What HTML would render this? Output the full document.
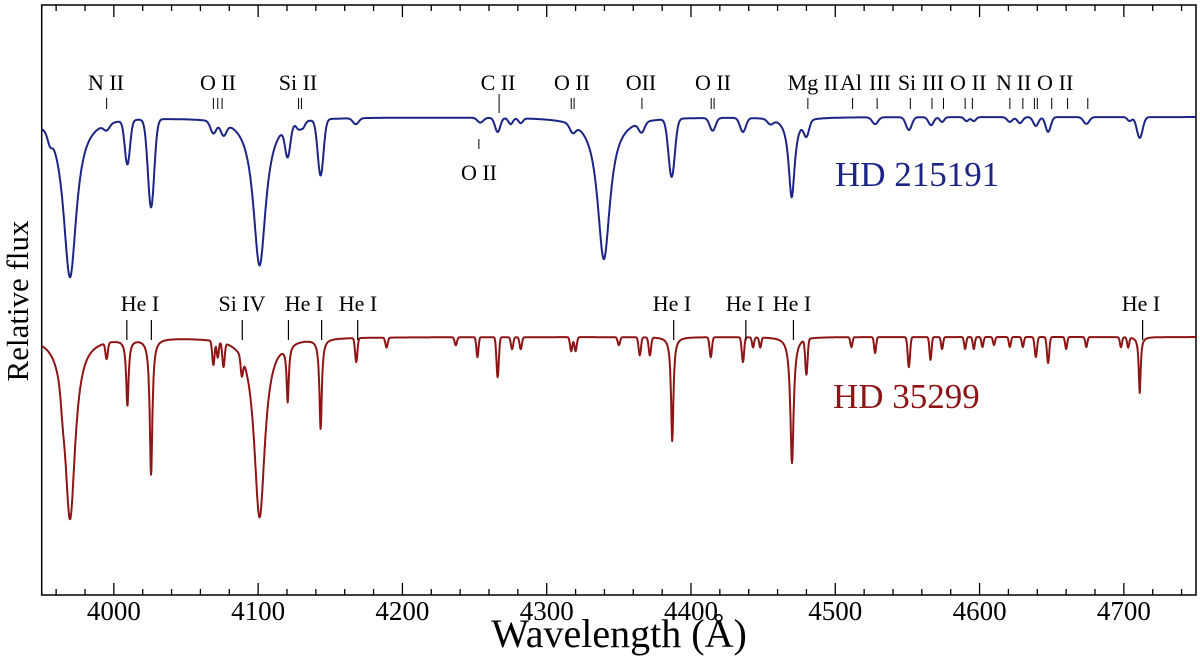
<!DOCTYPE html>
<html><head><meta charset="utf-8"><style>
html,body{margin:0;padding:0;background:#fff;}
svg{display:block;font-family:"Liberation Serif",serif;}
</style></head><body>
<svg id="chart" width="1200" height="666" viewBox="0 0 1200 666">
<g id="frame"></g>
<g id="series"></g>
<g id="labels"></g>
<text x="835" y="186" font-size="35" fill="#1c2585">HD 215191</text>
<text x="833" y="408" font-size="35" fill="#8e1515">HD 35299</text>
<text transform="translate(28,301) rotate(-90)" text-anchor="middle" font-size="31">Relative flux</text>
<text x="619" y="647" text-anchor="middle" font-size="40">Wavelength (Å)</text>
</svg>
<script>
// ---- data ----
const xTicks = [4000, 4100, 4200, 4300, 4400, 4500, 4600, 4700];
// HD 215191 line list (center Å, depth, width Å, type L=lorentz G=gauss)
const blueCenters = [3969.6,3955.7,3995,4009.4,4025.8,4069,4076,4101,4120.5,4128,4131,4143.3,4167.7,4254,4266,4275,4282,4318,4339.6,4365.8,4386.6,4415,4436,4455,4469.8,4480,4527.6,4551,4566.4,4574,4591,4596,4621,4628,4639,4647.5,4674,4704,4711];
const blueDepths  = [0.40,0.02,0.015,0.11,0.22,0.03,0.03,0.37,0.075,0.015,0.015,0.14,0.015,0.012,0.035,0.015,0.012,0.02,0.355,0.025,0.145,0.032,0.035,0.012,0.20,0.037,0.017,0.032,0.02,0.012,0.01,0.01,0.012,0.015,0.022,0.037,0.017,0.01,0.052];
const blueWidths  = [5.5,1.5,2,1.8,2.2,2,2,5.3,1.8,1.5,1.5,2,2,2,1.8,1.5,1.5,2,5.3,2,2.2,2,2,2,2.6,1.8,2,2,1.8,1.5,1.5,1.5,1.8,1.8,1.8,1.8,2,1.5,2];
const blueTypes   = "LGGGGGGLGGGGGGGGGGLGGGGGLGGGGGGGGGGGGGG";
// HD 35299 line list
const redCenters = [3969.6,3964.5,3995,4009.4,4025.8,4069,4072,4076,4088.7,4101,4120.5,4143.3,4168,4189,4237,4252,4266,4276,4282,4317,4320,4350,4364.5,4371.5,4387,4413.7,4436,4443,4448,4470,4480,4511.2,4527.6,4551,4566,4574,4590,4596,4602,4610,4621,4630,4639,4647.5,4660,4674,4698,4703,4711];
const redDepths  = [0.455,0.03,0.04,0.165,0.34,0.06,0.04,0.06,0.045,0.45,0.14,0.225,0.06,0.025,0.02,0.05,0.10,0.03,0.03,0.035,0.035,0.02,0.045,0.045,0.26,0.05,0.062,0.025,0.025,0.315,0.088,0.025,0.04,0.075,0.057,0.03,0.03,0.03,0.025,0.02,0.025,0.025,0.05,0.065,0.03,0.025,0.025,0.025,0.14];
const redWidths  = [4.4,1.2,0.8,1.0,1.1,0.8,0.7,0.8,0.8,4.5,0.9,1.0,0.8,0.8,0.8,0.7,0.8,0.8,0.8,0.8,0.8,0.8,0.8,0.8,1.0,0.8,0.8,0.7,0.7,1.4,0.8,0.7,0.7,0.8,0.7,0.7,0.7,0.7,0.7,0.7,0.7,0.7,0.8,0.8,0.7,0.7,0.7,0.7,0.8];
const redTypes   = "LGGLLGGGGLLLGGGGGGGGGGGGLGGGGLGGGGGGGGGGGGGGGGGGL";
const blueOffset = 0.55;
// labels: [text, text x(px), ticks wavelengths]
const blueLabelText = ["N II","O II","Si II","C II","O II","OII","O II","Mg II","Al","III","Si","III","O","II","N","II","O","II"];
const blueLabelX = [106,218,298,498,572,641,713,813,851,880,907,933,958,979,1004,1024,1045,1066];
const blueTickLam = [3995,4069,4072,4075,4128,4130,4267,4317,4319,4366,4414,4416,4481,4512,4529,4552,4567,4575,4590,4595,4621,4630,4638,4640,4650,4661,4675];
const redLabelText = ["He I","Si IV","He I","He I","He I","He I","He I","He I"];
const redLabelX = [140,242,304,358,672,745,792,1141];
const redTickLam = [4009,4026,4089,4121,4144,4169,4388,4438,4471,4713];
// ---- axes ----
const X0=41.7, X1=1196, Y0=5, Y1=595, LMIN=3950, LMAX=4750;
function xs(l){return X0+(l-LMIN)*(X1-X0)/(LMAX-LMIN);}
function ys(v){return 737-400*v;}
const NS="http://www.w3.org/2000/svg";
function mk(tag,attrs,parent){const e=document.createElementNS(NS,tag);for(const k in attrs)e.setAttribute(k,attrs[k]);parent.appendChild(e);return e;}
const frame=document.getElementById('frame');
const border=mk('path',{d:`M${X0},${Y0}H${X1}V${Y1}H${X0}Z`,fill:'none',stroke:'#000','stroke-width':1.5},frame);


for(let l=3960;l<=4740;l+=20){
  const major=(l%100===0), len=major?12:6, x=xs(l);
  const t=mk('path',{d:`M${x},${Y1}V${Y1-len}M${x},${Y0}V${Y0+len}`,stroke:'#000','stroke-width':1.3},frame);
  
  
}
xTicks.forEach(v=>{
  const t=mk('text',{x:xs(v),y:620,'text-anchor':'middle','font-size':27},frame);
  t.textContent=v;
  
  
});
function spectrum(c,d,w,ty,lam){
  let s=0;
  for(let i=0;i<c.length;i++){
    const dx=(lam-c[i])/w[i];
    s+= ty[i]==='L' ? d[i]/(1+dx*dx) : d[i]*Math.exp(-0.5*dx*dx);
  }
  return 1-s;
}
const ser=document.getElementById('series');
function drawSeries(c,d,w,ty,off,color,name){
  let p='';
  for(let l=LMIN;l<=LMAX;l+=0.25){
    const v=spectrum(c,d,w,ty,l)+off;
    p+=(p?'L':'M')+xs(l).toFixed(1)+','+ys(v).toFixed(1);
  }
  const e=mk('path',{d:p,fill:'none',stroke:color,'stroke-width':2,'stroke-linejoin':'round'},ser);
  
  
}
drawSeries(blueCenters,blueDepths,blueWidths,blueTypes,blueOffset,'#1c2585','spectrum-hd215191');
drawSeries(redCenters,redDepths,redWidths,redTypes,0,'#8e1515','spectrum-hd35299');
const lab=document.getElementById('labels');
function addLabels(texts,xsArr,y){
  texts.forEach((t,i)=>{
    const e=mk('text',{x:xsArr[i],y:y,'text-anchor':'middle','font-size':22},lab);
    e.textContent=t;
    
    
  });
}
addLabels(blueLabelText,blueLabelX,90);
addLabels(redLabelText,redLabelX,311);
blueTickLam.forEach(l=>{
  const long=(l===4267);
  const e=mk('path',{d:`M${xs(l)},${long?94:98}V${long?113:109}`,stroke:'#000','stroke-width':1},lab);
  
  
});
redTickLam.forEach(l=>{
  const e=mk('path',{d:`M${xs(l)},320V340`,stroke:'#000','stroke-width':1.2},lab);
  
  
});
// O II below-label
const ob=mk('path',{d:`M${xs(4253)},139V149`,stroke:'#000','stroke-width':1},lab);


const ot=mk('text',{x:479,y:180,'text-anchor':'middle','font-size':22},lab);
ot.textContent='O II';


</script>
</body></html>
